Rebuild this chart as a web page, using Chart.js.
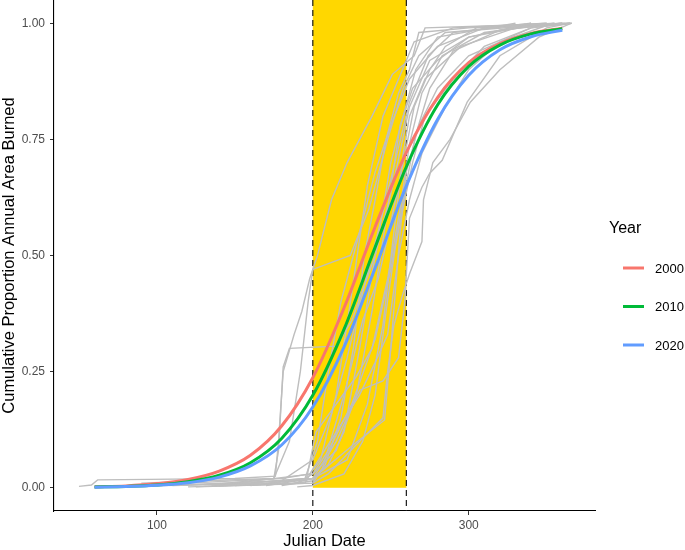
<!DOCTYPE html>
<html>
<head>
<meta charset="utf-8">
<script src="https://cdn.jsdelivr.net/npm/chart.js@4.4.0/dist/chart.umd.min.js"></script>
<style>
	body { margin: 0; background: #fff; }
	canvas { display: block; }
</style>
</head>
<body>
<canvas id="chart-burn" width="685" height="550"></canvas>
<script>
// fitted curves
const fitDays = [60, 80, 100, 120, 140, 160, 180, 200, 220, 240, 260, 280, 300, 320, 340, 360];
const fit2000 = [0.002, 0.004, 0.009, 0.018, 0.036, 0.070, 0.133, 0.237, 0.387, 0.562, 0.722, 0.840, 0.915, 0.956, 0.978, 0.989];
const fit2010 = [0.0015, 0.003, 0.006, 0.013, 0.027, 0.054, 0.106, 0.199, 0.341, 0.518, 0.691, 0.824, 0.907, 0.953, 0.977, 0.988];
const fit2020 = [0.0013, 0.0027, 0.0055, 0.011, 0.023, 0.047, 0.092, 0.174, 0.303, 0.473, 0.650, 0.793, 0.888, 0.943, 0.971, 0.985];

// individual years (grey), [day, proportion]
const yearTraces = [
	[[50,0.003],[58,0.006],[62,0.017],[95,0.018],[150,0.02],[176,0.025],[178,0.1],[181,0.25],[188,0.33],[193,0.38],[198,0.45],[203,0.5],[212,0.62],[222,0.7],[238,0.8],[251,0.89],[265,0.93],[272,0.99],[320,0.995],[365,1]],
	[[90,0.01],[130,0.015],[175,0.02],[178,0.08],[181,0.26],[185,0.3],[215,0.305],[225,0.36],[240,0.5],[252,0.66],[262,0.82],[275,0.92],[300,0.97],[340,0.995],[362,1]],
	[[120,0.01],[180,0.02],[198,0.03],[205,0.06],[215,0.2],[225,0.42],[235,0.65],[245,0.8],[255,0.88],[265,0.96],[290,0.99],[350,1]],
	[[110,0.005],[170,0.01],[200,0.02],[210,0.05],[220,0.12],[230,0.3],[240,0.5],[250,0.7],[258,0.8],[266,0.9],[280,0.97],[330,1]],
	[[130,0.003],[190,0.01],[200,0.03],[215,0.08],[228,0.2],[238,0.38],[248,0.6],[256,0.78],[264,0.86],[280,0.92],[300,0.97],[340,1]],
	[[125,0.002],[185,0.008],[200,0.02],[222,0.06],[235,0.18],[245,0.35],[252,0.55],[258,0.72],[262,0.8],[272,0.88],[295,0.95],[330,0.99],[365,1]],
	[[140,0.005],[195,0.01],[200,0.04],[230,0.2],[240,0.27],[248,0.33],[255,0.5],[262,0.62],[270,0.72],[285,0.82],[300,0.9],[320,0.96],[350,0.995],[366,1]],
	[[160,0.005],[200,0.02],[225,0.09],[246,0.146],[250,0.3],[256,0.55],[260,0.68],[268,0.78],[280,0.86],[300,0.93],[340,0.99],[364,1]],
	[[150,0.005],[200,0.01],[210,0.03],[230,0.1],[245,0.15],[248,0.25],[252,0.35],[258,0.42],[262,0.46],[270,0.53],[271,0.62],[277,0.7],[288,0.75],[301,0.83],[320,0.9],[345,0.97],[366,1]],
	[[170,0.005],[200,0.02],[215,0.1],[230,0.21],[245,0.23],[255,0.28],[259,0.4],[262,0.58],[270,0.647],[275,0.677],[283,0.705],[299,0.83],[320,0.93],[350,0.99],[365,1]],
	[[100,0.004],[160,0.01],[195,0.02],[203,0.1],[210,0.25],[218,0.4],[230,0.55],[240,0.68],[250,0.78],[262,0.88],[280,0.95],[310,0.99],[360,1]],
	[[115,0.006],[180,0.015],[200,0.06],[212,0.16],[222,0.28],[232,0.42],[244,0.58],[254,0.72],[262,0.83],[274,0.93],[290,0.98],[340,1]],
	[[135,0.004],[196,0.02],[202,0.12],[215,0.18],[228,0.24],[238,0.3],[248,0.45],[256,0.6],[262,0.74],[270,0.85],[283,0.93],[310,0.98],[355,1]],
	[[140,0.008],[175,0.02],[185,0.1],[192,0.25],[197,0.4],[200,0.47],[224,0.5],[236,0.6],[248,0.75],[258,0.86],[268,0.93],[285,0.98],[360,1]],
	[[180,0.005],[200,0.015],[208,0.05],[218,0.15],[226,0.3],[233,0.5],[240,0.62],[247,0.75],[255,0.85],[262,0.9],[268,0.98],[300,0.99],[350,1]],
	[[190,0.002],[200,0.005],[220,0.03],[232,0.1],[240,0.2],[247,0.38],[253,0.52],[259,0.62],[264,0.7],[272,0.8],[290,0.88],[310,0.95],[340,0.99],[366,1]],
	[[150,0.01],[200,0.03],[210,0.08],[225,0.18],[240,0.32],[250,0.47],[258,0.62],[266,0.76],[275,0.86],[290,0.94],[320,0.985],[360,1]],
	[[120,0.002],[200,0.01],[206,0.04],[220,0.2],[232,0.36],[242,0.45],[250,0.57],[258,0.7],[265,0.82],[275,0.9],[285,0.95],[305,0.99],[355,1]],
];

const xTicks = [100, 200, 300];
const yTicks = [0, 0.25, 0.5, 0.75, 1];
const peakWindow = [200, 260];

const FONT = "'Liberation Sans', Arial, sans-serif";

function fitDataset(label, values, color, order) {
	return {
		label: label,
		data: fitDays.map((d, i) => ({x: d, y: values[i]})),
		borderColor: color,
		borderWidth: 3,
		pointRadius: 0,
		cubicInterpolationMode: 'monotone',
		order: order,
		legendKey: true,
	};
}

const datasets = yearTraces.map((t) => ({
	data: t.map((p) => ({x: p[0], y: p[1]})),
	borderColor: '#BEBEBE',
	borderWidth: 1.4,
	pointRadius: 0,
	tension: 0,
	order: 10,
}));
datasets.push(fitDataset('2000', fit2000, '#F8766D', 3));
datasets.push(fitDataset('2010', fit2010, '#00BA38', 2));
datasets.push(fitDataset('2020', fit2020, '#619CFF', 1));

// yellow window + dashed borders
const windowPlugin = {
	id: 'window',
	beforeDatasetsDraw(chart) {
		const {ctx, chartArea, scales: {x, y}} = chart;
		const x0 = x.getPixelForValue(peakWindow[0]);
		const x1 = x.getPixelForValue(peakWindow[1]);
		ctx.save();
		ctx.fillStyle = '#FFD700';
		ctx.fillRect(x0, chartArea.top, x1 - x0, y.getPixelForValue(0) - chartArea.top);
		ctx.setLineDash([6, 4]);
		ctx.strokeStyle = '#1a1a1a';
		ctx.lineWidth = 1.2;
		for (const px of [x0, x1]) {
			ctx.beginPath();
			ctx.moveTo(px, chartArea.top);
			ctx.lineTo(px, chartArea.bottom);
			ctx.stroke();
		}
		ctx.restore();
	}
};

// ggplot style legend on the right
const legendPlugin = {
	id: 'yearLegend',
	afterDraw(chart) {
		const ctx = chart.ctx;
		const left = chart.chartArea.right + 14;
		ctx.save();
		ctx.textBaseline = 'middle';
		ctx.textAlign = 'left';
		ctx.fillStyle = '#000';
		ctx.font = '16px ' + FONT;
		ctx.fillText('Year', left, 229);
		let yy = 268;
		ctx.font = '13px ' + FONT;
		for (const ds of chart.data.datasets) {
			if (!ds.legendKey) {
				continue;
			}
			ctx.strokeStyle = ds.borderColor;
			ctx.lineWidth = 3;
			ctx.beginPath();
			ctx.moveTo(left + 14, yy);
			ctx.lineTo(left + 35, yy);
			ctx.stroke();
			ctx.fillText(ds.label, left + 46, yy + 1);
			yy += 38.5;
		}
		ctx.restore();
	}
};

const axisCommon = {
	border: {display: true, color: '#000', width: 1.1},
	grid: {drawOnChartArea: false, drawTicks: true, tickLength: 4, color: '#333'},
};

new Chart(document.getElementById('chart-burn').getContext('2d'), {
	type: 'line',
	data: {datasets: datasets},
	options: {
		responsive: false,
		animation: false,
		layout: {padding: {top: 0, right: 90, bottom: 0, left: 0}},
		plugins: {
			legend: {display: false},
			tooltip: {enabled: false},
		},
		scales: {
			x: {
				type: 'linear',
				min: 34,
				max: 381,
				...axisCommon,
				afterBuildTicks: (s) => { s.ticks = xTicks.map((v) => ({value: v})); },
				afterFit: (s) => { s.height = 39; s.paddingLeft = 0; s.paddingRight = 0; },
				ticks: {color: '#4d4d4d', font: {family: FONT, size: 12}, padding: 3, maxRotation: 0},
				title: {display: true, text: 'Julian Date', color: '#000', font: {family: FONT, size: 16.5, lineHeight: 1}, padding: {top: 0, bottom: 0}},
			},
			y: {
				type: 'linear',
				min: -0.05,
				max: 1.05,
				...axisCommon,
				afterBuildTicks: (s) => { s.ticks = yTicks.map((v) => ({value: v})); },
				afterFit: (s) => { s.width = 54; s.paddingTop = 0; s.paddingBottom = 0; },
				ticks: {color: '#4d4d4d', font: {family: FONT, size: 12}, padding: 5, callback: (v) => v.toFixed(2)},
				title: {display: true, text: 'Cumulative Proportion Annual Area Burned', color: '#000', font: {family: FONT, size: 16.5, lineHeight: 1.1}, padding: {top: 0, bottom: 0}},
			},
		},
	},
	plugins: [windowPlugin, legendPlugin],
});
</script>
</body>
</html>
